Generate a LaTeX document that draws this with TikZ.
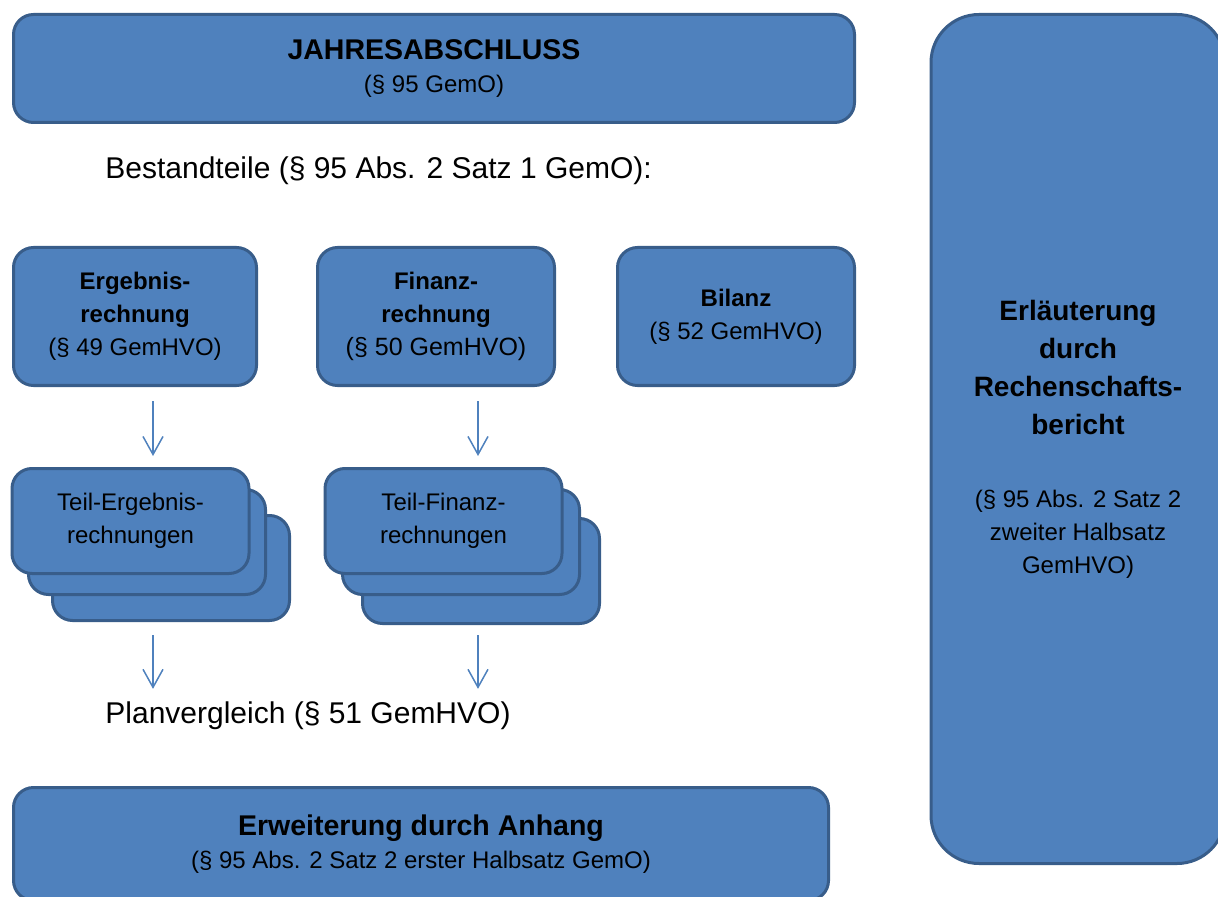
\documentclass[tikz,border=0pt]{standalone}
\usepackage{fontspec}
\setmainfont{Liberation Sans}
\usepackage{tikz}
\usetikzlibrary{arrows.meta, positioning}
\definecolor{gemblue}{HTML}{4F81BD}
\definecolor{gemborder}{HTML}{385D8A}
\newcommand{\headfont}{\fontsize{14.25}{16.5}\selectfont\bfseries}
\newcommand{\sidefont}{\fontsize{14}{19}\selectfont\bfseries}

\begin{document}
\begin{tikzpicture}[
    x=0.5pt, y=-0.5pt,
    block/.style={rectangle, rounded corners=#1, draw=gemborder, fill=gemblue, line width=1.5pt, align=center, inner sep=0pt, font=\fontsize{12}{16.5}\selectfont},
    block/.default=10pt,
    part/.style={block, minimum width=118.5pt, minimum height=69pt},
    sheet/.style={block, minimum width=118.5pt, minimum height=52.5pt},
    arrow/.style={-{Straight Barb[length=9pt, width=10pt]}, line width=0.75pt, color=gemblue},
    caption/.style={anchor=base west, inner sep=0pt, font=\fontsize{15}{18}\selectfont}
]
\useasboundingbox (0,0) rectangle (1218,897);

\node[block, minimum width=420.5pt, minimum height=54pt] (jab) at (434,68.5) {{\headfont JAHRESABSCHLUSS}\\(§ 95 GemO)};
\node[block=24pt, minimum width=147pt, minimum height=424.5pt] (rb) at (1078,439) {{\sidefont Erläuterung}\\[2.5pt]{\sidefont durch}\\[2.5pt]{\sidefont Rechenschafts-}\\[2.5pt]{\sidefont bericht}\\[20pt](§ 95 Abs. 2 Satz 2\\zweiter Halbsatz\\GemHVO)};

\node[caption] (bestand) at (105,179) {Bestandteile (§ 95 Abs. 2 Satz 1 GemO):};

\node[part, minimum width=121.5pt] (erg) at (135,316.5) {\textbf{Ergebnis-}\\\textbf{rechnung}\\(§ 49 GemHVO)};
\node[part] (fin) at (436,316.5) {\textbf{Finanz-}\\\textbf{rechnung}\\{\fontsize{12.5}{16.5}\selectfont(§ 50 GemHVO)}};
\node[part] (bil) at (736,316.5) {\textbf{Bilanz}\\(§ 52 GemHVO)};

% Teilrechnungen als Stapel
\node[sheet] (teilerg3) at (171,568) {};
\node[sheet] (teilerg2) at (147,542) {};
\node[sheet] (teilerg1) at (130.5,521) {Teil-Ergebnis-\\rechnungen};
\node[sheet] (teilfin3) at (481,571) {};
\node[sheet] (teilfin2) at (461,542) {};
\node[sheet] (teilfin1) at (443.5,521) {Teil-Finanz-\\rechnungen};

\node[caption] (planvgl) at (105,723) {Planvergleich (§ 51 GemHVO)};

\node[block, minimum width=407.5pt, minimum height=56.5pt] (anhang) at (421,844) {{\headfont Erweiterung durch Anhang}\\(§ 95 Abs. 2 Satz 2 erster Halbsatz GemO)};

\coordinate (ergline) at (153,0);
\coordinate (finline) at (478,0);

\draw[arrow, shorten <=7pt, shorten >=5.5pt] (erg.south -| ergline) -- (teilerg1.north -| ergline);
\draw[arrow, shorten <=7pt, shorten >=5.5pt] (fin.south -| finline) -- (teilfin1.north -| finline);
\draw[arrow, shorten <=6.5pt, shorten >=6pt] (teilerg3.south -| ergline) -- (planvgl.north -| ergline);
\draw[arrow, shorten <=5pt, shorten >=6pt] (teilfin3.south -| finline) -- (planvgl.north -| finline);

\end{tikzpicture}
\end{document}
